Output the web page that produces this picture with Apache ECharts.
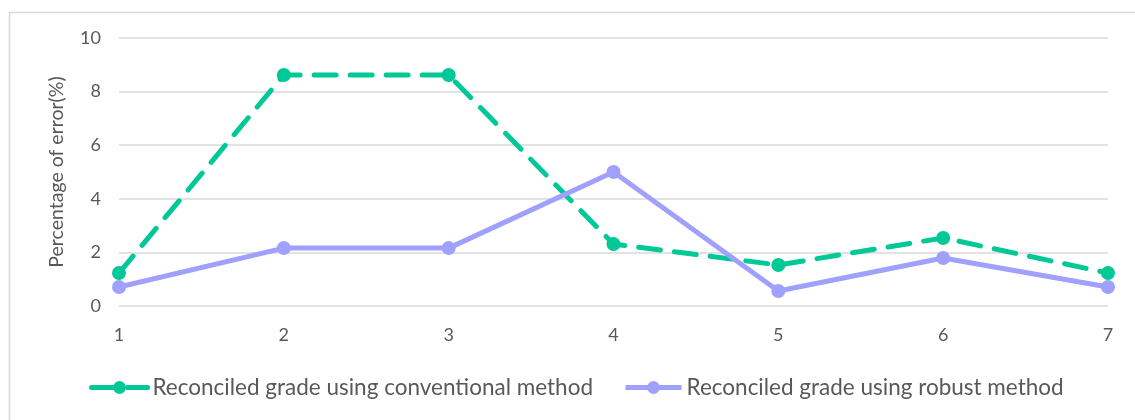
<!DOCTYPE html>
<html>
<head>
<meta charset="utf-8">
<script src="https://cdn.jsdelivr.net/npm/echarts@6/dist/echarts.min.js"></script>
<style>html,body{margin:0;padding:0;background:#fff;}#c{width:1135px;height:420px;}</style>
</head>
<body>
<div id="c"></div>
<script>
const categories = ['1','2','3','4','5','6','7'];
const conventional = [1.23, 8.62, 8.62, 2.31, 1.53, 2.54, 1.23];
const robust = [0.71, 2.16, 2.16, 5.0, 0.56, 1.79, 0.71];
const seriesNames = ['Reconciled grade using conventional method', 'Reconciled grade using robust method'];
const yTicks = {min: 0, max: 10, interval: 2};

const chart = echarts.init(document.getElementById('c'));
const font = 'Lato, "Open Sans", sans-serif';
chart.setOption({
  animation: false,
  backgroundColor: '#fff',
  graphic: [{
    type: 'rect', left: 7, top: 10,
    shape: {width: 1140, height: 420},
    style: {fill: 'none', stroke: '#d9d9d9', lineWidth: 1.5},
    silent: true
  }],
  grid: {left: 119, right: 27, top: 38, bottom: 114},
  legend: {
    left: 84, top: 371,
    itemWidth: 56, itemHeight: 16, itemGap: 30,
    textStyle: {fontFamily: font, fontSize: 22.5, color: '#595959'},
    lineStyle: {width: 5},
    data: seriesNames
  },
  xAxis: {
    type: 'category', data: categories, boundaryGap: false,
    axisLine: {show: false}, axisTick: {show: false},
    axisLabel: {fontFamily: font, fontSize: 18, color: '#595959', margin: 20}
  },
  yAxis: {
    type: 'value', min: yTicks.min, max: yTicks.max, interval: yTicks.interval,
    name: 'Percentage of error(%)', nameLocation: 'middle', nameGap: 52,
    nameTextStyle: {fontFamily: font, fontSize: 19.5, color: '#595959'},
    axisLine: {show: false}, axisTick: {show: false},
    axisLabel: {fontFamily: font, fontSize: 18, color: '#595959', margin: 18},
    splitLine: {lineStyle: {color: '#d9d9d9', width: 1.5}}
  },
  series: [{
    name: seriesNames[0], type: 'line', data: conventional,
    symbol: 'circle', symbolSize: 14,
    itemStyle: {color: '#00C896'},
    lineStyle: {color: '#00C896', width: 5, type: [22, 14], cap: 'round'}
  }, {
    name: seriesNames[1], type: 'line', data: robust,
    symbol: 'circle', symbolSize: 14,
    itemStyle: {color: '#A0A0FF'},
    lineStyle: {color: '#A0A0FF', width: 5}
  }]
});
</script>
</body>
</html>
